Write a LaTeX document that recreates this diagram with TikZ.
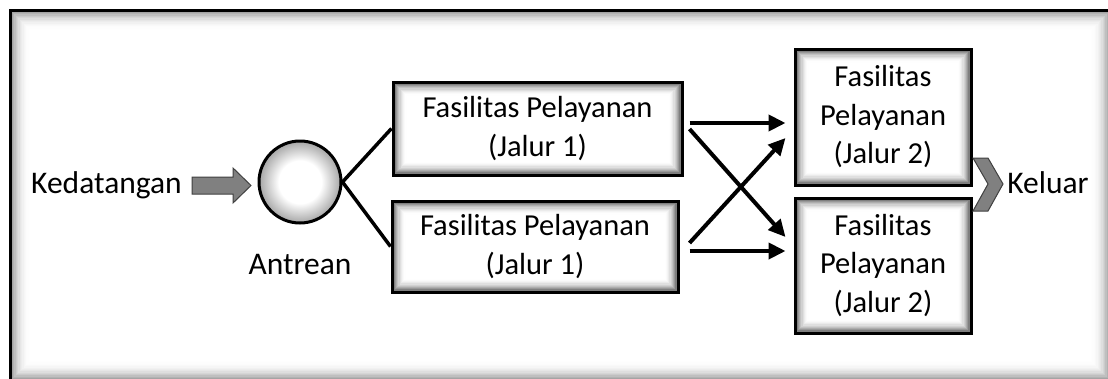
\documentclass[tikz,border=0pt]{standalone}
\usepackage{fontspec}
\setmainfont{Carlito}
\usetikzlibrary{arrows.meta,calc}

% soft white-to-grey ball for the queue
\pgfdeclareradialshading{bubble}{\pgfpoint{0bp}{0bp}}{color(0bp)=(white); color(13bp)=(white); color(25bp)=(black!35); color(50bp)=(black!35)}

\tikzset{
  shadowin/.style 2 args={path picture={
    \foreach \k in {0,...,#1}{
      \pgfmathsetmacro\op{0.5*(1-\k/(#1+1))^2}
      \pgfmathsetmacro\d{1.5+(\k+0.5)*#2}
      \draw[black,opacity=\op,line width=#2 pt]
        ([shift={(\d pt,\d pt)}]path picture bounding box.south west) rectangle
        ([shift={(-\d pt,-\d pt)}]path picture bounding box.north east);
    }}},
  box/.style={draw=black, line width=3pt, fill=white, align=center,
    inner sep=0pt, font=\fontsize{30.5}{38.5}\selectfont, shadowin={9}{1.2}},
  label/.style={inner sep=0pt, font=\fontsize{31.5}{36}\selectfont},
  link/.style={line width=3.5pt},
  flow/.style={line width=4pt, -{Triangle[length=17pt,width=16pt]}},
  grayshape/.style={fill=black!50, draw=black!75, line width=1pt, line join=miter},
}

\begin{document}
\begin{tikzpicture}[x=1pt,y=-1pt]
\useasboundingbox (0,0) rectangle (1108,378);

% outer frame with soft inner edge
\begin{scope}
  \clip (0,0) rectangle (1108,378);
  \fill[white] (9,9) rectangle (1112,382);
  \foreach \k in {0,...,15}{
    \pgfmathsetmacro\op{0.42*(1-\k/16)^2.5}
    \pgfmathsetmacro\d{1.5+(\k+0.5)*1.3}
    \draw[black,opacity=\op,line width=1.3pt] (9+\d,9+\d) rectangle (1112-\d,382-\d);
  }
  \draw[line width=3pt] (10,382) -- (10,10) -- (1112,10);
\end{scope}

% arrival
\node[label] (arr) at (106.5,185) {Kedatangan};
\draw[grayshape] (192,177) -- (233,177) -- (233,168) -- (251,185.5) -- (233,203) -- (233,194) -- (192,194) -- cycle;

% queue
\node[circle, draw=black, line width=3pt, minimum size=82pt, shade, shading=bubble] (q) at (300,182) {};
\node[label] (qlab) at (300,265) {Antrean};

% first stage
\node[box, minimum width=289pt, minimum height=93pt] (b1) at (537.5,128.5) {Fasilitas Pelayanan\\(Jalur 1)};
\node[box, minimum width=286pt, minimum height=91pt] (b2) at (535,246.5) {Fasilitas Pelayanan\\(Jalur 1)};

% second stage
\node[box, minimum width=176pt, minimum height=136pt] (b3) at (883,117) {Fasilitas\\Pelayanan\\(Jalur 2)};
\node[box, minimum width=176pt, minimum height=135pt] (b4) at (883,265.5) {Fasilitas\\Pelayanan\\(Jalur 2)};

% queue to first stage
\draw[link] (q.east) -- (b1.west);
\draw[link] (q.east) -- (b2.west);

% first stage to second stage
\draw[flow] ([shift={(6,-5.5)}]b1.east) -- ([shift={(-8,6)}]b3.west);
\draw[flow] ([shift={(6,0.5)}]b1.east) -- ([shift={(-8,-28.5)}]b4.west);
\draw[flow] ([shift={(10,-3.5)}]b2.east) -- ([shift={(-8,21)}]b3.west);
\draw[flow] ([shift={(10,4.5)}]b2.east) -- ([shift={(-8,-14.5)}]b4.west);

% exit
\draw[grayshape] (973,158) -- (988,158) -- (1003,184) -- (988,211) -- (973,211) -- (988,184) -- cycle;
\node[label] (out) at (1048,183) {Keluar};
\end{tikzpicture}
\end{document}
